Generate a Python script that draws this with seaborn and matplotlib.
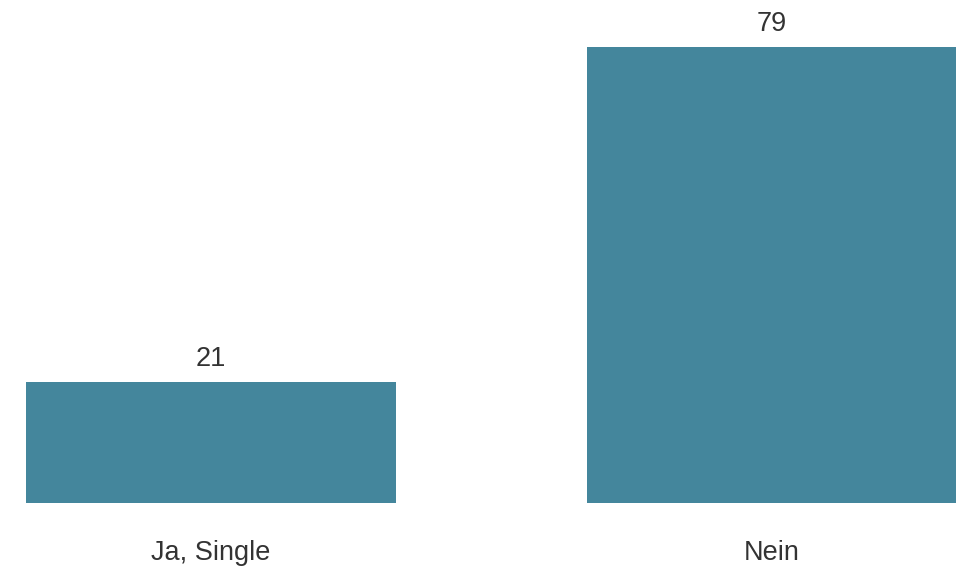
import matplotlib
matplotlib.use("Agg")
import matplotlib.pyplot as plt
import seaborn as sns
import pandas as pd

categories = ["Ja, Single", "Nein"]
values = [21, 79]

bar_color = "#44869C"
text_color = "#333333"

sns.set_theme(style="white")
plt.rcParams["font.family"] = ["Liberation Sans", "DejaVu Sans"]

df = pd.DataFrame({"cat": categories, "val": values})

fig = plt.figure(figsize=(9.56, 5.70), dpi=100)
ax = fig.add_axes([0, 1 - 503 / 570, 1, 503 / 570])

sns.barplot(data=df, x="cat", y="val", color=bar_color, saturation=1,
            width=0.66, ax=ax)

for p in ax.patches:
    p.set_edgecolor("none")

for i, v in enumerate(values):
    ax.text(i, v + 2.75, str(v), ha="center", va="baseline",
            fontsize=19.5, color=text_color)

ax.set_xlim(-0.376, 1.328)
ax.set_ylim(0, 87.1)
ax.set_xlabel("")
ax.set_ylabel("")
ax.set_yticks([])
ax.tick_params(axis="x", length=0, pad=27, labelsize=19.5, labelcolor=text_color)
sns.despine(ax=ax, left=True, bottom=True)

fig.savefig("out.png", dpi=100)
